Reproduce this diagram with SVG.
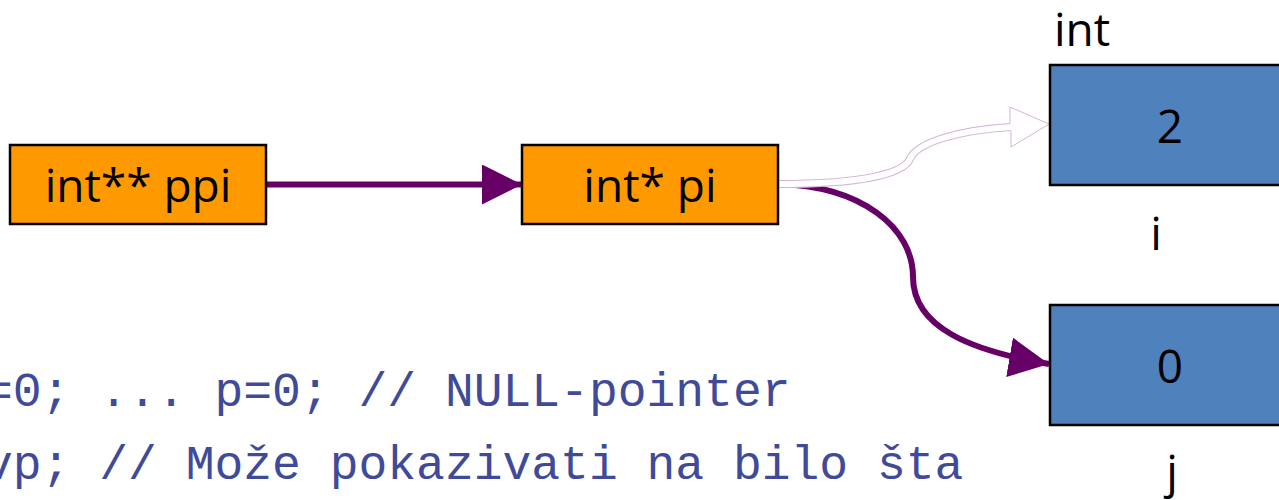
<svg xmlns="http://www.w3.org/2000/svg" width="1279" height="500" viewBox="0 0 1279 500">
  <style>
    .ptr { fill: #FF9900; stroke: #000; stroke-width: 2.5; }
    .val { fill: #4F81BD; stroke: #000; stroke-width: 2.5; }
    .lbl { font-family: "Open Sans", "Liberation Sans", sans-serif; font-size: 46px; fill: #000; }
    .code { font-family: "Liberation Mono", "Courier New", monospace; font-size: 48px; fill: #404A98; }
    .link { fill: none; stroke: #660066; stroke-width: 6; }
  </style>
  <defs>
    <marker id="head" markerUnits="userSpaceOnUse" markerWidth="42" markerHeight="42" refX="40" refY="20" orient="auto">
      <path d="M0,0 L40,20 L0,40 Z" fill="#660066"/>
    </marker>
  </defs>

  <rect width="1279" height="500" fill="#fff"/>

  <!-- connectors -->
  <g id="connectors">
    <!-- ppi -> pi -->
    <path class="link" d="M266,184.5 L522,184.5" marker-end="url(#head)"/>
    <!-- pi -> j -->
    <path class="link" d="M778,184 C862,186 913,228 913,277 C913,328 972,351 1049,364" marker-end="url(#head)"/>
    <!-- pi -> i (faint outlined block arrow) -->
    <g id="ghost-arrow">
      <path d="M778,184 C870,184 904,172 910,159 C917,142 960,130 1011,127" fill="none" stroke="#D6B4D6" stroke-width="8"/>
      <path d="M776,184 C870,184 904,172 910,159 C917,142 960,130 1012,127" fill="none" stroke="#fff" stroke-width="6"/>
      <polyline points="1010,123 1010,107 1049,124 1011,147 1011,131" fill="#fff" stroke="#D6B4D6" stroke-width="1"/>
    </g>
  </g>

  <!-- pointer nodes -->
  <g id="ppi">
    <rect class="ptr" x="10" y="145" width="256" height="79"/>
    <text class="lbl" x="138" y="202" text-anchor="middle">int** ppi</text>
  </g>
  <g id="pi">
    <rect class="ptr" x="522" y="145" width="256" height="79"/>
    <text class="lbl" x="650" y="202" text-anchor="middle">int* pi</text>
  </g>

  <!-- int variables -->
  <text class="lbl" x="1054" y="46">int</text>
  <g id="i">
    <rect class="val" x="1050" y="65" width="256" height="120"/>
    <text class="lbl" x="1170" y="143" text-anchor="middle">2</text>
    <text class="lbl" x="1156" y="250" text-anchor="middle">i</text>
  </g>
  <g id="j">
    <rect class="val" x="1050" y="305" width="256" height="120"/>
    <text class="lbl" x="1170" y="383" text-anchor="middle">0</text>
    <text class="lbl" x="1172" y="488" text-anchor="middle">j</text>
  </g>

  <!-- code lines -->
  <text class="code" x="-16" y="406" xml:space="preserve">=0; ... p=0; // NULL-pointer</text>
  <text class="code" x="-16" y="479" xml:space="preserve">vp; // Može pokazivati na bilo šta</text>
</svg>
